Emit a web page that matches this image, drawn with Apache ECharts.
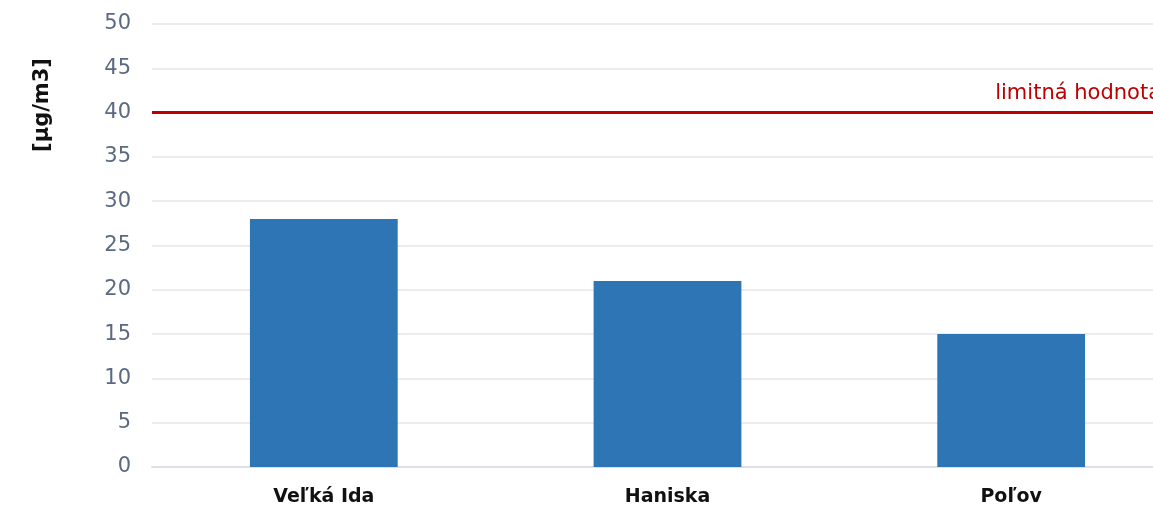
<!DOCTYPE html>
<html>
<head>
<meta charset="utf-8">
<script src="https://cdn.jsdelivr.net/npm/echarts@6/dist/echarts.min.js"></script>
<style>
  html, body { margin: 0; padding: 0; background: #fff; }
  #chart { width: 1153px; height: 507px; }
</style>
</head>
<body>
<div id="chart"></div>
<script>
// data
const stations = ['Veľká Ida', 'Haniska', 'Poľov']
const values = [28, 21, 15]
const limitValue = 40
const limitLabel = 'limitná hodnota'
const unitLabel = '[µg/m3]'

const font = '"DejaVu Sans", sans-serif'

const chart = echarts.init(document.getElementById('chart'))
chart.setOption({
  animation: false,
  // plot runs past the right edge, like the original (label gets cut)
  grid: { left: 152, width: 1031, top: 24, height: 443, outerBoundsMode: 'none' },
  graphic: [
    {
      type: 'text',
      x: 43,
      y: 105,
      rotation: Math.PI / 2,
      style: {
        text: unitLabel,
        font: 'bold 21px ' + font,
        fill: '#111',
        textAlign: 'center',
        textVerticalAlign: 'middle'
      }
    }
  ],
  xAxis: {
    type: 'category',
    data: stations,
    axisTick: { show: false },
    axisLine: { lineStyle: { color: '#dde1e7', width: 2 } },
    axisLabel: {
      color: '#111',
      fontWeight: 'bold',
      fontSize: 19,
      fontFamily: font,
      margin: 21
    }
  },
  yAxis: {
    type: 'value',
    min: 0,
    max: 50,
    interval: 5,
    axisLine: { show: false },
    axisTick: { show: false },
    axisLabel: {
      color: '#5b6a80',
      fontSize: 21,
      fontFamily: font,
      margin: 21
    },
    splitLine: { lineStyle: { color: '#e3e6eb', width: 1.5 } }
  },
  series: [
    {
      type: 'bar',
      data: values,
      barWidth: '43%',
      itemStyle: { color: '#2e75b6' },
      markLine: {
        symbol: 'none',
        silent: true,
        lineStyle: { color: '#c00000', width: 3, type: 'solid' },
        label: {
          position: 'insideEndTop',
          formatter: limitLabel,
          color: '#c00000',
          fontSize: 21,
          fontFamily: font,
          distance: [22, 9]
        },
        data: [{ yAxis: limitValue }]
      }
    }
  ]
})
</script>
</body>
</html>
